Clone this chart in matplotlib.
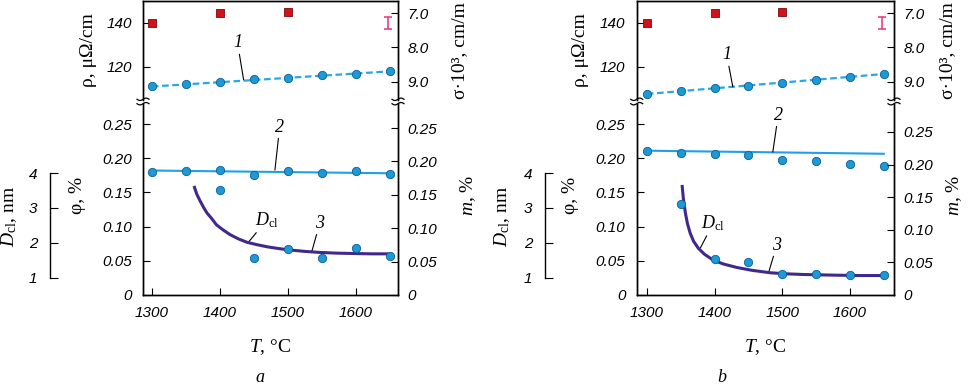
import numpy as np
import matplotlib.pyplot as plt
from matplotlib.lines import Line2D

plt.rcParams['font.family'] = ['Liberation Sans', 'DejaVu Sans']
plt.rcParams['font.style'] = 'italic'
plt.rcParams['font.size'] = 11
plt.rcParams['mathtext.fontset'] = 'custom'
plt.rcParams['mathtext.rm'] = 'Liberation Serif:style=normal'
plt.rcParams['mathtext.it'] = 'Liberation Serif:style=italic'
plt.rcParams['mathtext.bf'] = 'Liberation Serif:style=normal:bold'
plt.rcParams['axes.linewidth'] = 1.0

W, H = 968, 385

# ---- data ----
T = [1300, 1350, 1400, 1450, 1500, 1550, 1600, 1650]
T_fit = [1300, 1650]
T_sq = [1300, 1400, 1500]

# panel a
rho_a = [111.4, 112.3, 113.2, 114.5, 115.0, 116.4, 116.8, 118.2]
rho_fit_a = [111.1, 118.0]
sq_a = [140.0, 144.5, 145.0]
phi_a = [0.180, 0.182, 0.183, 0.176, 0.181, 0.178, 0.181, 0.177]
phi_fit_a = [0.182, 0.178]
T_m_a = [1400, 1450, 1500, 1550, 1600, 1650]
m_a = [0.157, 0.055, 0.069, 0.056, 0.071, 0.059]
T_d_a = [1362, 1366, 1371, 1376, 1381, 1388, 1395, 1405, 1415, 1427, 1440,
         1455, 1470, 1487, 1503, 1525, 1547, 1572, 1596, 1623, 1650]
d_a = [3.63, 3.40, 3.20, 3.02, 2.86, 2.70, 2.52, 2.37, 2.24, 2.12, 2.02,
       1.95, 1.89, 1.84, 1.80, 1.76, 1.73, 1.71, 1.70, 1.69, 1.69]

# panel b
rho_b = [107.6, 109.1, 110.3, 111.4, 112.9, 113.9, 115.4, 116.8]
rho_fit_b = [107.7, 116.8]
sq_b = [140.0, 144.5, 145.0]
phi_b = [0.211, 0.207, 0.206, 0.204, 0.198, 0.196, 0.191, 0.188]
phi_fit_b = [0.211, 0.2065]
T_m_b = [1350, 1400, 1450, 1500, 1550, 1600, 1650]
m_b = [0.139, 0.055, 0.051, 0.032, 0.032, 0.030, 0.030]
T_d_b = [1352, 1354, 1357, 1360, 1364, 1369, 1376, 1385, 1398, 1413, 1433,
         1455, 1482, 1505, 1531, 1555, 1580, 1615, 1649]
d_b = [3.66, 3.25, 2.85, 2.55, 2.28, 2.05, 1.85, 1.68, 1.51, 1.40, 1.30,
       1.22, 1.15, 1.12, 1.10, 1.09, 1.08, 1.07, 1.07]

err_T, err_rho, err_size = 1648, 140.0, 2.7

c_pt = '#1c9ad6'
c_edge = '#0b5d96'
c_l1 = '#2aa6e4'
c_l2 = '#1fa0e8'
c_d = '#41288c'
c_sq = '#d4111b'
c_err = '#e8327a'

serif = dict(family='Liberation Serif', style='normal', size=14)
note = dict(family='Liberation Serif', style='italic', size=13)


def rect(x0, x1, y0, y1):
    return [x0 / W, 1 - y1 / H, (x1 - x0) / W, (y1 - y0) / H]


def break_marks(fig, xp, yp):
    for yy in (yp - 2.2, yp + 2.2):
        xs = np.linspace(xp - 6, xp + 6, 25)
        ys = yy - 1.2 * np.sin((xs - xp) / 6 * np.pi)
        fig.add_artist(Line2D(xs / W, 1 - ys / H, color='k', lw=0.9))


def panel(fig, x0, x1, xlim, rho, rho_fit, sq, phi, phi_fit, T_m, m, T_d, d,
          m_top, d_off, lab_x, notes, letter, letter_x):
    ax_t = fig.add_axes(rect(x0, x1, 1, 99.5))
    ax_b = fig.add_axes(rect(x0, x1, 103.5, 295))

    # top part
    ax_t.set_xlim(xlim)
    ax_t.set_ylim(105.2, 150)
    ax_t.spines['bottom'].set_visible(False)
    ax_t.tick_params(axis='x', bottom=False, labelbottom=False)
    ax_t.set_yticks([120, 140])
    ax_t.tick_params(axis='y', direction='in', length=5, pad=8)
    ax_t.plot(T_fit, rho_fit, color=c_l1, lw=1.6, ls=(0, (3, 1.6)))
    ax_t.plot(T, rho, 'o', ms=6, mfc=c_pt, mec=c_edge, mew=0.6)
    ax_t.plot(T_sq, sq, 's', ms=5.2, mfc=c_sq, mec='#7a0a0a', mew=0.6)
    ax_t.errorbar([err_T], [err_rho], yerr=[err_size], fmt='none',
                  ecolor=c_err, elinewidth=1.1, capsize=3, capthick=1.1)
    ax_t.set_ylabel('ρ, μΩ/cm', fontdict=serif)
    ax_t.yaxis.set_label_coords(lab_x[0], 0.5)

    ax_s = ax_t.twinx()
    ax_s.set_ylim(9.515, 6.647)
    ax_s.spines['bottom'].set_visible(False)
    ax_s.set_yticks([7, 8, 9])
    ax_s.set_yticklabels(['7.0', '8.0', '9.0'])
    ax_s.tick_params(axis='y', direction='in', length=5, pad=7)
    ax_s.set_ylabel('σ·10³, cm/m', fontdict=serif)
    ax_s.yaxis.set_label_coords(lab_x[3], 0.5)

    # bottom part
    ax_b.set_xlim(xlim)
    ax_b.set_ylim(0, 0.280)
    ax_b.spines['top'].set_visible(False)
    ax_b.set_xticks([1300, 1400, 1500, 1600])
    ax_b.set_yticks([0, 0.05, 0.10, 0.15, 0.20, 0.25])
    ax_b.set_yticklabels(['0', '0.05', '0.10', '0.15', '0.20', '0.25'])
    ax_b.tick_params(direction='in', length=5, pad=8)
    ax_b.plot(T_fit, phi_fit, color=c_l2, lw=1.5)
    ax_b.plot(T, phi, 'o', ms=6, mfc=c_pt, mec=c_edge, mew=0.6)
    ax_b.set_ylabel('φ, %', fontdict=serif)
    ax_b.yaxis.set_label_coords(lab_x[1], 0.52)
    ax_b.set_xlabel(r'$T$, °C', fontdict=serif, labelpad=12)

    ax_d = ax_b.twinx()
    for s in ('top', 'right', 'bottom'):
        ax_d.spines[s].set_visible(False)
    ax_d.spines['left'].set_visible(True)
    ax_d.spines['left'].set_position(('outward', d_off))
    ax_d.spines['left'].set_bounds(1, 4)
    ax_d.yaxis.set_ticks_position('left')
    ax_d.yaxis.set_label_position('left')
    ax_d.set_ylim(0.514, 5.986)
    ax_d.set_yticks([1, 2, 3, 4])
    ax_d.tick_params(axis='y', direction='in', length=6, pad=9)
    ax_d.plot(T_d, d, color=c_d, lw=2.2, solid_capstyle='butt',
              solid_joinstyle='round')
    ax_d.set_ylabel(r'$D_{\mathrm{cl}}$, nm', fontdict=serif)
    ax_d.yaxis.set_label_coords(lab_x[2], 0.41)

    ax_m = ax_b.twinx()
    ax_m.spines['top'].set_visible(False)
    ax_m.set_ylim(0, m_top)
    ax_m.set_yticks([0, 0.05, 0.10, 0.15, 0.20, 0.25])
    ax_m.set_yticklabels(['0', '0.05', '0.10', '0.15', '0.20', '0.25'])
    ax_m.tick_params(axis='y', direction='in', length=5, pad=7)
    ax_m.plot(T_m, m, 'o', ms=6, mfc=c_pt, mec=c_edge, mew=0.6)
    ax_m.set_ylabel(r'$m$, %', fontdict=serif)
    ax_m.yaxis.set_label_coords(lab_x[4], 0.52)

    # curve labels with leader lines
    for which, txt, xt, yt, xe, ye in notes:
        ax = ax_t if which == 't' else ax_b
        ax.annotate(txt, xy=(xe, ye), xytext=(xt, yt), ha='center', va='center',
                    **note,
                    arrowprops=dict(arrowstyle='-', lw=0.8, color='k',
                                    shrinkA=0, shrinkB=0))

    for xp in (x0, x1):
        break_marks(fig, xp, 101.5)

    fig.text(letter_x / W, 1 - 382 / H, letter, ha='center',
             va='baseline', **note)


fig = plt.figure(figsize=(W / 100, H / 100), dpi=100)

notes_a = [('t', '1', 1426, 130.9, 1435, 114.1),
           ('b', '2', 1488, 0.2456, 1481, 0.1827),
           ('b', r'$D_{\mathrm{cl}}$', 1469, 0.1096, 1441, 0.076),
           ('b', '3', 1547, 0.105, 1535, 0.0629)]
notes_b = [('t', '1', 1418, 125.5, 1427, 110.9),
           ('b', '2', 1494, 0.263, 1486, 0.209),
           ('b', r'$D_{\mathrm{cl}}$', 1398, 0.105, 1379, 0.0687),
           ('b', '3', 1492, 0.0731, 1480, 0.0336)]

panel(fig, 143, 398, (1287, 1662), rho_a, rho_fit_a, sq_a, phi_a, phi_fit_a,
      T_m_a, m_a, T_d_a, d_a, 0.2867, 67,
      (-0.18, -0.224, -0.486, 1.208, 1.235), notes_a, 'a', 260)
panel(fig, 636.7, 894, (1285, 1665), rho_b, rho_fit_b, sq_b, phi_b, phi_fit_b,
      T_m_b, m_b, T_d_b, d_b, 0.2937, 66,
      (-0.185, -0.224, -0.485, 1.175, 1.194), notes_b, 'b', 722)

fig.savefig('out.png', dpi=100)
